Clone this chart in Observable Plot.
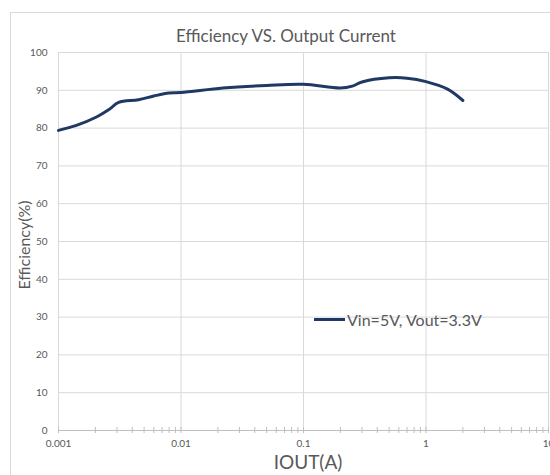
<!DOCTYPE html>
<html>
<head>
<meta charset="utf-8">
<script src="https://cdn.jsdelivr.net/npm/d3@7"></script>
<script src="https://cdn.jsdelivr.net/npm/@observablehq/plot@0.6"></script>
<style>
  html, body { margin: 0; padding: 0; background: #fff; overflow: hidden; }
  #wrap { position: relative; width: 550px; height: 475px; font-family: Lato, "Open Sans", sans-serif; color: #595959; }
  #frame { position: absolute; left: 10px; top: 12px; width: 620px; height: 520px; border: 1px solid #d9d9d9; box-sizing: border-box; }
  #title { position: absolute; left: 0; width: 572px; top: 25px; text-align: center; font-size: 17px; }
  #ylab { position: absolute; left: 23px; top: 245px; transform: translate(-50%, -50%) rotate(-90deg); font-size: 16px; white-space: nowrap; }
  #xlab { position: absolute; left: 308px; top: 450px; transform: translateX(-50%); font-size: 19px; white-space: nowrap; }
  #legend { position: absolute; left: 314px; top: 310px; font-size: 16px; white-space: nowrap; display: flex; align-items: center; }
  #legend .sw { display: inline-block; width: 31px; height: 3px; background: #1f3864; margin-right: 2px; }
  #chart { position: absolute; left: 0; top: 0; }
</style>
</head>
<body>
<div id="wrap">
  <div id="frame"></div>
  <div id="chart"></div>
  <div id="title">Efficiency VS. Output Current</div>
  <div id="ylab">Efficiency(%)</div>
  <div id="xlab">IOUT(A)</div>
  <div id="legend"><span class="sw"></span><span>Vin=5V, Vout=3.3V</span></div>
</div>
<script>
const iout = [0.001, 0.0014, 0.002, 0.0026, 0.0031, 0.0045, 0.006, 0.008, 0.01, 0.022, 0.05, 0.1, 0.2, 0.25, 0.3, 0.5, 0.7, 1, 1.5, 2];
const efficiency = [79.4, 80.7, 82.8, 85.0, 86.8, 87.5, 88.5, 89.3, 89.4, 90.6, 91.3, 91.6, 90.6, 91.1, 92.2, 93.3, 93.2, 92.3, 90.3, 87.3];
const seriesName = "Vin=5V, Vout=3.3V";

const xTicks = [0.001, 0.01, 0.1, 1, 10];
const xTickLabels = ["0.001", "0.01", "0.1", "1", "10"];
const yTicks = [0, 10, 20, 30, 40, 50, 60, 70, 80, 90, 100];
const minorMultipliers = [1, 2, 3, 4, 5, 6, 7, 8, 9];

const data = iout.map((x, i) => ({x, y: efficiency[i], s: seriesName}));
const minorTicks = [];
for (const dec of [0.001, 0.01, 0.1, 1]) for (const m of minorMultipliers) minorTicks.push(+(dec * m).toPrecision(3));
minorTicks.push(10);

const chart = Plot.plot({
  width: 550,
  height: 475,
  marginTop: 52,
  marginBottom: 45,
  marginLeft: 58,
  marginRight: 2,
  style: {fontFamily: "Lato, 'Open Sans', sans-serif", color: "#595959", background: "transparent", overflow: "visible"},
  x: {type: "log", domain: [0.001, 10]},
  y: {domain: [0, 100]},
  marks: [
    Plot.gridY(yTicks, {stroke: "#d9d9d9", strokeOpacity: 1}),
    Plot.gridX(xTicks, {stroke: "#d9d9d9", strokeOpacity: 1}),
    Plot.ruleY([0], {stroke: "#bfbfbf"}),
    Plot.ruleX(minorTicks, {x: d => d, y1: -0.8, y2: 0.8, stroke: "#bfbfbf"}),
    Plot.axisY(yTicks, {tickSize: 0, tickPadding: 11, fontSize: 10, fill: "#595959", label: null}),
    Plot.axisX(xTicks, {tickSize: 0, tickPadding: 9, fontSize: 10, fill: "#595959", label: null,
      tickFormat: d => xTickLabels[xTicks.indexOf(d)]}),
    Plot.line(data, {x: "x", y: "y", stroke: "#1f3864", strokeWidth: 3, curve: "catmull-rom"})
  ]
});
document.getElementById("chart").appendChild(chart);
</script>
</body>
</html>
